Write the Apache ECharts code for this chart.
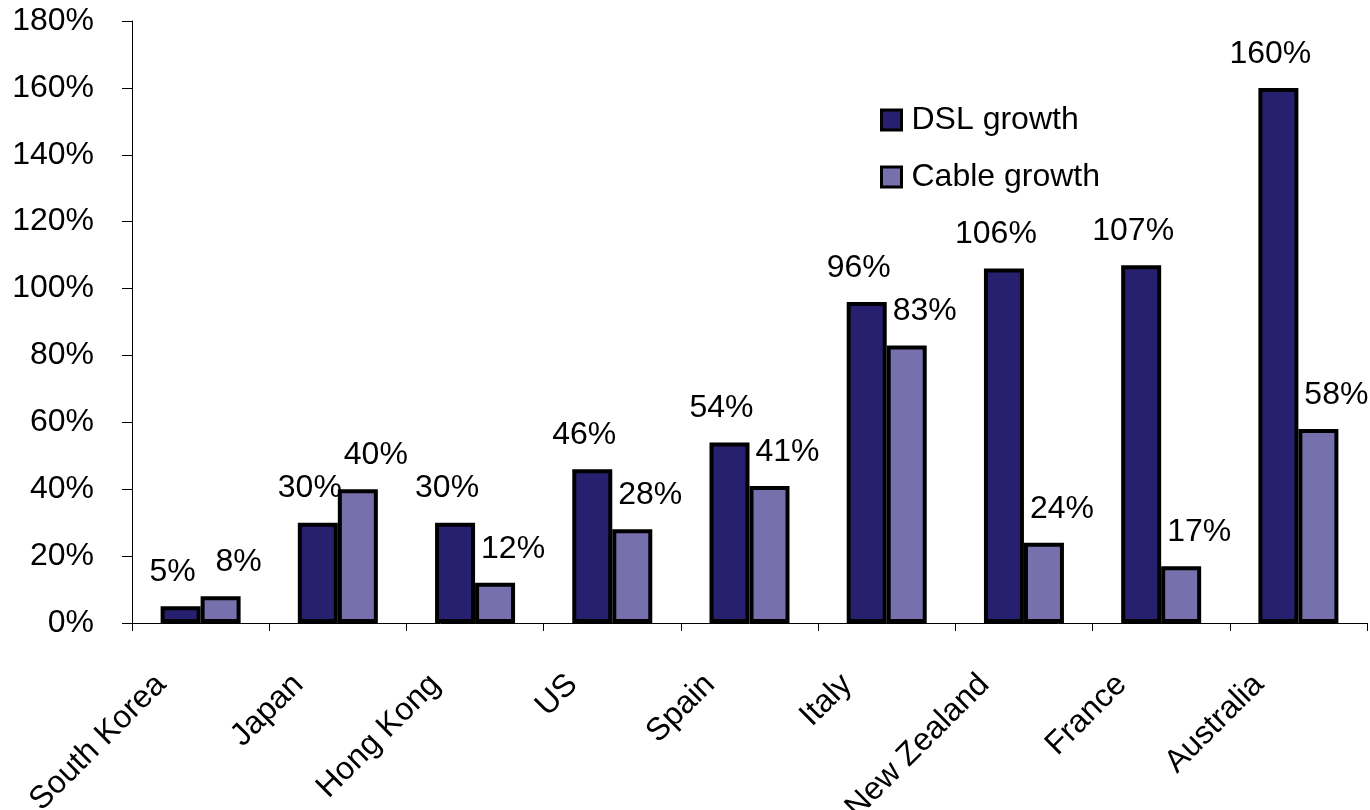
<!DOCTYPE html>
<html>
<head>
<meta charset="utf-8">
<script src="https://cdn.jsdelivr.net/npm/echarts@6/dist/echarts.min.js"></script>
<style>
  html, body { margin: 0; padding: 0; background: #ffffff; }
  #chart { width: 1370px; height: 810px; }
</style>
</head>
<body>
<div id="chart"></div>
<script>
// Broadband subscriber growth by country
const countries = ['South Korea', 'Japan', 'Hong Kong', 'US', 'Spain', 'Italy', 'New Zealand', 'France', 'Australia'];
const dslGrowth = [5, 30, 30, 46, 54, 96, 106, 107, 160];
const cableGrowth = [8, 40, 12, 28, 41, 83, 24, 17, 58];
const yTicks = [0, 20, 40, 60, 80, 100, 120, 140, 160, 180];

const FONT = '"Liberation Sans", Arial, sans-serif';
const chart = echarts.init(document.getElementById('chart'), null, { renderer: 'canvas' });

function barSeries(name, values, color, dx) {
  return {
    name: name,
    type: 'bar',
    data: values,
    barWidth: 40,
    barGap: '0%',
    itemStyle: { color: color, borderColor: '#000000', borderWidth: 4 },
    label: {
      show: true,
      position: 'top',
      distance: 5,
      offset: [dx, -13],
      formatter: p => p.value + '%',
      fontFamily: FONT,
      fontSize: 32,
      color: '#000000'
    }
  };
}

chart.setOption({
  animation: false,
  backgroundColor: '#ffffff',
  grid: { left: 132, right: 3, top: 21, bottom: 187, containLabel: false, outerBoundsMode: 'none' },
  legend: {
    orient: 'vertical',
    left: 875,
    top: 99,
    itemWidth: 20,
    itemHeight: 20,
    itemGap: 25,
    icon: 'rect',
    itemStyle: { borderColor: '#000000', borderWidth: 3 },
    textStyle: { fontFamily: FONT, fontSize: 32, color: '#000000', padding: [0, 0, 0, 5] },
    data: ['DSL growth', 'Cable growth']
  },
  xAxis: {
    type: 'category',
    data: countries,
    axisLine: { lineStyle: { color: '#000000', width: 1 } },
    axisTick: { show: true, length: 8, alignWithLabel: false, lineStyle: { color: '#000000' } },
    axisLabel: {
      rotate: 45,
      margin: 17,
      interval: 0,
      padding: [0, 56, 0, 0],
      fontFamily: FONT,
      fontSize: 32,
      color: '#000000'
    }
  },
  yAxis: {
    type: 'value',
    min: yTicks[0],
    max: yTicks[yTicks.length - 1],
    interval: 20,
    splitLine: { show: false },
    axisLine: { show: true, lineStyle: { color: '#000000', width: 1 } },
    axisTick: { show: true, length: 10, lineStyle: { color: '#000000' } },
    axisLabel: {
      margin: 38,
      formatter: v => v + '%',
      fontFamily: FONT,
      fontSize: 32,
      color: '#000000'
    }
  },
  series: [
    barSeries('DSL growth', dslGrowth, '#26206E', -8),
    barSeries('Cable growth', cableGrowth, '#7670AC', 18)
  ]
});
</script>
</body>
</html>
